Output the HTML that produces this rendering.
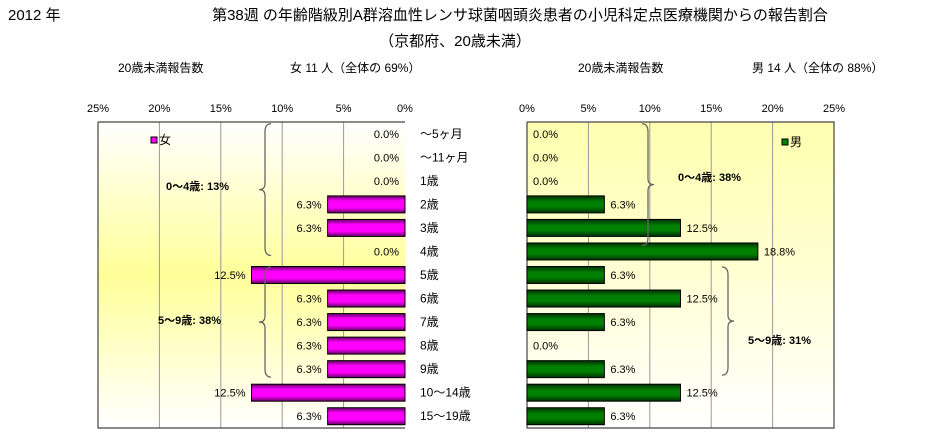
<!DOCTYPE html>
<html><head><meta charset="utf-8"><style>
body{margin:0;background:#fff;width:944px;height:443px;overflow:hidden;font-family:"Liberation Sans","Noto Sans CJK JP",sans-serif}
svg text{font-family:"Liberation Sans","Noto Sans CJK JP",sans-serif}
</style></head><body>
<svg id="c" width="944" height="443">
<defs>
<linearGradient id="bg" x1="0" y1="0" x2="0" y2="1">
<stop offset="0" stop-color="#ffffff"/><stop offset="0.5" stop-color="#ffff99"/><stop offset="1" stop-color="#ffffff"/></linearGradient>
<linearGradient id="bgR" x1="0" y1="0" x2="0" y2="1">
<stop offset="0" stop-color="#ffffb0"/><stop offset="0.45" stop-color="#ffffd0"/><stop offset="1" stop-color="#ffffff"/></linearGradient>
<linearGradient id="pk" x1="0" y1="0" x2="0" y2="1">
<stop offset="0" stop-color="#600060"/><stop offset="0.3" stop-color="#ff00ff"/><stop offset="0.7" stop-color="#ff00ff"/><stop offset="1" stop-color="#600060"/></linearGradient>
<linearGradient id="gr" x1="0" y1="0" x2="0" y2="1">
<stop offset="0" stop-color="#003000"/><stop offset="0.35" stop-color="#008000"/><stop offset="0.65" stop-color="#008000"/><stop offset="1" stop-color="#003000"/></linearGradient>
</defs>
<text x="8" y="20" font-size="15">2012 年</text>
<text x="520" y="20" font-size="15" text-anchor="middle">第38週 の年齢階級別A群溶血性レンサ球菌咽頭炎患者の小児科定点医療機関からの報告割合</text>
<text x="455" y="46" font-size="15" text-anchor="middle">（京都府、20歳未満）</text>
<text x="118" y="72" font-size="12">20歳未満報告数</text>
<text x="290" y="72" font-size="12">女 11 人（全体の 69%）</text>
<text x="578" y="72" font-size="12">20歳未満報告数</text>
<text x="752" y="72" font-size="12">男 14 人（全体の 88%）</text>
<g id="g"></g>
</svg>
<script>
const categories=["～5ヶ月","～11ヶ月","1歳","2歳","3歳","4歳","5歳","6歳","7歳","8歳","9歳","10～14歳","15～19歳"];
const female=[0,0,0,6.3,6.3,0,12.5,6.3,6.3,6.3,6.3,12.5,6.3];
const male=[0,0,0,6.3,12.5,18.8,6.3,12.5,6.3,0,6.3,12.5,6.3];
const ticks=[0,5,10,15,20,25];
const NS="http://www.w3.org/2000/svg";
const g=document.getElementById('g');
const top0=122,bot=428,rowH=(bot-top0)/categories.length,scale=307/25;
const xL=v=>405-v*scale, xR=v=>527+v*scale, yC=i=>top0+rowH*(i+0.5);
function mk(t,a,txt){const e=document.createElementNS(NS,t);for(const k in a)e.setAttribute(k,a[k]);if(txt!==undefined)e.textContent=txt;g.appendChild(e);return e;}
// backgrounds
let e=mk('rect',{x:xL(25),y:top0,width:307,height:bot-top0,fill:'url(#bg)'});

e=mk('rect',{x:527,y:top0,width:307,height:bot-top0,fill:'url(#bgR)'});

ticks.forEach(t=>{
 if(t>0&&t<25){mk('line',{x1:xL(t),x2:xL(t),y1:top0,y2:bot,stroke:'#999'});mk('line',{x1:xR(t),x2:xR(t),y1:top0,y2:bot,stroke:'#999'});}
 e=mk('text',{x:xL(t),y:112,'font-size':11,'text-anchor':'middle'},t+'%');
 
 e=mk('text',{x:xR(t),y:112,'font-size':11,'text-anchor':'middle'},t+'%');
 
});
mk('path',{d:`M${xL(25)} ${top0}V${bot}H405 M${xL(25)} ${top0}H405`,stroke:'#444',fill:'none','stroke-width':1.2});
mk('path',{d:`M527 ${top0}V${bot}H834V${top0}H527`,stroke:'#444',fill:'none','stroke-width':1.2});
const bh=17;
categories.forEach((c,i)=>{
 const y=yC(i);
 e=mk('text',{x:420,y:y+4,'font-size':12},c);
 
 const f=female[i],m=male[i];
 if(f>0){e=mk('rect',{x:xL(f),y:y-bh/2,width:f*scale,height:bh,fill:'url(#pk)',stroke:'#000'});
 }
 e=mk('text',{x:xL(f)-6,y:y+4,'font-size':11,'text-anchor':'end'},f.toFixed(1)+'%');
 
 if(m>0){e=mk('rect',{x:527,y:y-bh/2,width:m*scale,height:bh,fill:'url(#gr)',stroke:'#000'});
 }
 e=mk('text',{x:xR(m)+6,y:y+4,'font-size':11},m.toFixed(1)+'%');
 
});
function brace(x,y1,y2,dir){const ym=(y1+y2)/2,d=dir*6;
 mk('path',{d:`M${x+d} ${y1} Q${x} ${y1} ${x} ${y1+8} V${ym-6} Q${x} ${ym} ${x-d} ${ym} Q${x} ${ym} ${x} ${ym+6} V${y2-8} Q${x} ${y2} ${x+d} ${y2}`,stroke:'#666',fill:'none','stroke-width':1.3});}
brace(265,yC(0)-10,yC(5)+4,1);brace(265,yC(6)-8,yC(10)+8,1);
brace(648,yC(0)-10,yC(5)-6,-1);brace(728,yC(6)-8,yC(10)+6,-1);
e=mk('rect',{x:151,y:137,width:6,height:6,fill:'#ff00ff',stroke:'#000'});

e=mk('text',{x:159,y:144,'font-size':12},'女');

e=mk('rect',{x:782,y:139,width:6,height:6,fill:'#008000',stroke:'#000'});

e=mk('text',{x:790,y:146,'font-size':12},'男');

[[166,190,'0～4歳: 13%'],[158,324,'5～9歳: 38%'],[678,181,'0～4歳: 38%'],[748,344,'5～9歳: 31%']].forEach(a=>{
 e=mk('text',{x:a[0],y:a[1],'font-size':11,'font-weight':'bold'},a[2]);
 });
</script>
</body></html>
